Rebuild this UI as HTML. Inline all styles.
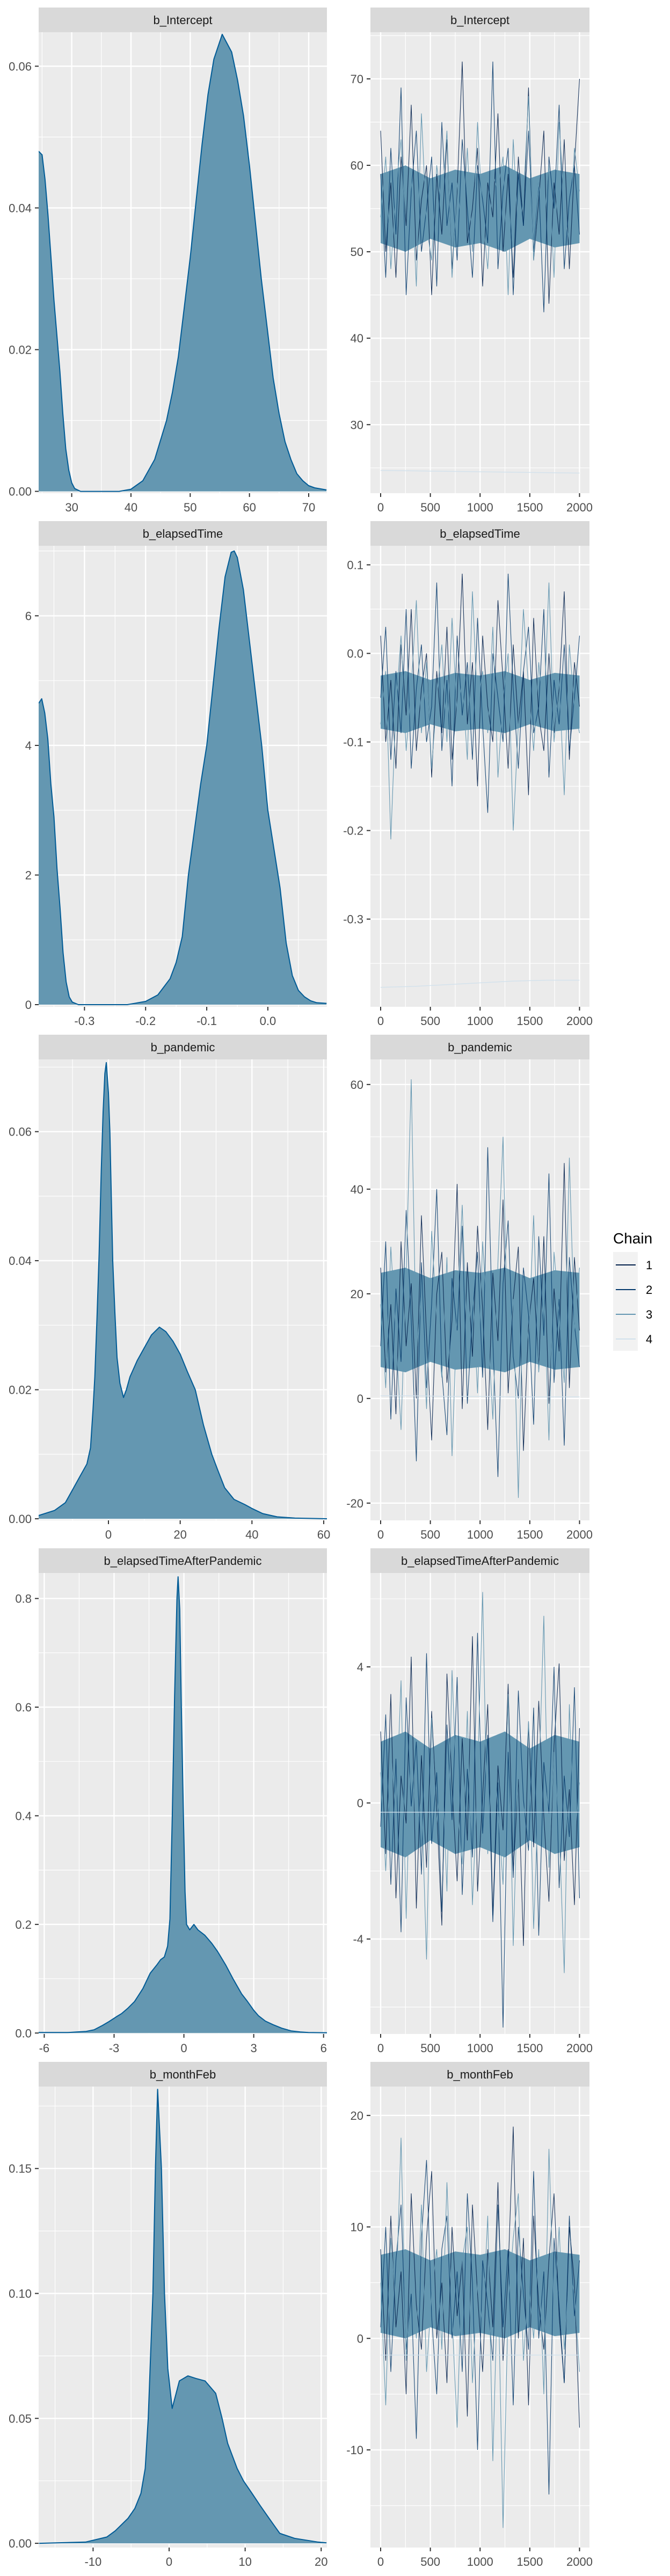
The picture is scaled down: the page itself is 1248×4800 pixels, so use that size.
<!DOCTYPE html>
<html><head><meta charset="utf-8">
<style>
html,body{margin:0;padding:0;background:#fff;}
svg{display:block;}
text{font-family:"Liberation Sans",Arial,sans-serif;}
</style></head>
<body>
<svg id="chart" width="1248" height="4800" viewBox="0 0 1248 4800" xmlns="http://www.w3.org/2000/svg">
<rect x="0" y="0" width="1248" height="4800" fill="#ffffff"/>
<g id="legend">
  <text x="1142" y="2317" font-size="28" fill="#000">Chain</text>
  <rect x="1142" y="2333" width="46" height="184" fill="#F2F2F2"/>
</g>
</svg>
<script>
// ---------- parameter names ----------
const paramNames = ["b_Intercept","b_elapsedTime","b_pandemic","b_elapsedTimeAfterPandemic","b_monthFeb"];
const chainLabels = ["1","2","3","4"];

// ---------- density data (x, density) ----------
const densX0 = [24.4,25,25.5,26,26.5,27,27.5,28,28.5,29,29.5,30,30.5,31.5,38,40,42,44,46,47,48,49,50,51,52,53,54,55.4,57,58,59,60,61,62,63,64,65,66,67,68,69,70,71,73];
const densY0 = [0.048,0.0475,0.044,0.039,0.033,0.027,0.022,0.017,0.011,0.006,0.003,0.0012,0.0004,0,0,0.0003,0.0015,0.0045,0.010,0.014,0.019,0.026,0.033,0.041,0.049,0.056,0.061,0.0645,0.062,0.058,0.053,0.046,0.038,0.030,0.023,0.016,0.011,0.007,0.0045,0.0025,0.0015,0.0008,0.0005,0.0002];
const densX1 = [-0.375,-0.37,-0.365,-0.36,-0.355,-0.35,-0.345,-0.34,-0.335,-0.33,-0.325,-0.32,-0.31,-0.23,-0.2,-0.18,-0.16,-0.15,-0.14,-0.13,-0.12,-0.11,-0.10,-0.09,-0.08,-0.07,-0.06,-0.055,-0.05,-0.04,-0.03,-0.02,-0.01,0.0,0.01,0.02,0.03,0.04,0.05,0.06,0.07,0.08,0.096];
const densY1 = [4.65,4.72,4.5,4.1,3.4,2.9,2.1,1.5,0.8,0.35,0.12,0.04,0,0,0.05,0.15,0.4,0.65,1.05,2.0,2.7,3.4,4.0,4.9,5.8,6.6,6.98,7.0,6.9,6.4,5.6,4.8,4.0,3.0,2.4,1.8,0.95,0.45,0.22,0.12,0.06,0.03,0.02];
const densX2 = [-19.5,-15,-12,-10,-8,-6,-5,-4.3,-3.8,-3.2,-2.6,-2,-1.5,-1,-0.6,0,0.4,0.8,1.2,1.8,2.4,3.2,4.2,5,6,8,10,12,14.2,16,18,20,22,24.2,26.5,28.8,30.5,32.4,35,38,40,43,47,52,61];
const densY2 = [0.0005,0.0013,0.0025,0.0045,0.0065,0.0085,0.011,0.017,0.022,0.031,0.041,0.054,0.063,0.069,0.0707,0.066,0.06,0.05,0.04,0.032,0.025,0.021,0.0188,0.020,0.022,0.0245,0.0265,0.0285,0.0297,0.029,0.0275,0.0255,0.0228,0.02,0.0145,0.01,0.0075,0.0048,0.003,0.0022,0.0016,0.0008,0.0003,0.0001,0];
const densX3 = [-6.24,-5,-4.6,-4.2,-3.86,-3.5,-3.22,-2.9,-2.67,-2.4,-2.12,-1.76,-1.45,-1.17,-1.0,-0.84,-0.7,-0.6,-0.5,-0.4,-0.3,-0.25,-0.18,-0.11,-0.02,0.05,0.115,0.25,0.43,0.6,0.9,1.2,1.45,1.8,2.11,2.48,2.7,3.0,3.2,3.5,3.85,4.2,4.6,5.0,5.35,6.15];
const densY3 = [0.001,0.001,0.002,0.003,0.006,0.014,0.021,0.03,0.036,0.046,0.058,0.082,0.11,0.125,0.135,0.14,0.16,0.21,0.4,0.62,0.8,0.84,0.78,0.6,0.4,0.26,0.2,0.19,0.2,0.19,0.18,0.165,0.15,0.125,0.1,0.072,0.06,0.042,0.032,0.022,0.015,0.009,0.004,0.002,0.001,0.0005];
const densX4 = [-17.1,-11,-8.2,-7.08,-5.4,-4.5,-3.71,-3.14,-2.75,-2.13,-1.8,-1.51,-1.01,-0.61,-0.17,0.4,1.35,2.47,3.5,4.73,6.13,6.97,7.7,8.94,9.78,10.9,12.0,13.15,14.55,16.5,19.6,20.7];
const densY4 = [0,0.0005,0.0025,0.005,0.01,0.014,0.02,0.03,0.05,0.1,0.15,0.1817,0.15,0.1,0.07,0.054,0.065,0.067,0.066,0.065,0.06,0.05,0.04,0.03,0.025,0.02,0.015,0.01,0.004,0.002,0.0005,0.0002];

// ---------- trace data (values sampled along iterations 0..2000) ----------
const traceC1_0 = [64,50,58,47,61,53,67,49,56,60,45,59,52,63,48,57,72,51,55,62,46,58,54,66,50,59,47,61,53,69,49,56,64,44,58,52,63,48,60,70];
const traceC2_0 = [59,47,62,52,69,45,57,64,50,55,61,46,65,53,58,49,63,55,47,60,56,51,72,48,57,62,45,59,53,64,50,58,43,61,55,67,48,56,60,52];
const traceC3_0 = [54,61,48,57,63,51,59,46,66,53,49,60,55,64,47,58,52,62,50,65,54,48,59,57,61,45,63,52,56,68,49,58,53,60,47,65,55,51,62,57];
const traceC4_0 = [24.7,24.65,24.6,24.55,24.5,24.45,24.4];
const bandLo_0 = [51,50,51.5,50.5,51,50,51.5,50.5,51];
const bandHi_0 = [59,60,58.5,59.5,59,60,58.5,59.5,59];

const traceC1_1 = [0.02,-0.10,-0.03,-0.13,0.01,-0.07,0.05,-0.11,-0.04,0.00,-0.14,-0.02,-0.09,0.03,-0.12,-0.05,0.09,-0.08,-0.01,-0.15,0.02,-0.06,-0.10,0.06,-0.03,-0.13,0.01,-0.08,-0.02,-0.16,0.04,-0.07,-0.11,0.00,-0.09,-0.04,0.07,-0.12,-0.01,-0.06];
const traceC2_1 = [-0.05,0.03,-0.12,-0.02,-0.09,0.05,-0.13,-0.04,0.01,-0.10,-0.06,0.08,-0.11,-0.03,-0.15,0.02,-0.07,-0.01,-0.12,0.04,-0.08,-0.18,0.00,-0.05,-0.10,0.09,-0.04,-0.13,-0.02,0.03,-0.09,-0.06,0.05,-0.14,-0.03,-0.08,0.01,-0.11,-0.05,0.02];
const traceC3_1 = [-0.08,-0.02,-0.21,-0.06,0.02,-0.11,-0.04,0.06,-0.09,-0.01,-0.13,-0.05,0.01,-0.10,0.04,-0.07,-0.03,-0.12,0.07,-0.06,-0.02,-0.09,0.03,-0.14,-0.05,0.00,-0.20,-0.08,0.05,-0.04,-0.11,-0.01,-0.07,0.08,-0.10,-0.03,-0.16,0.01,-0.06,-0.09];
const traceC4_1 = [-0.377,-0.376,-0.374,-0.372,-0.370,-0.369,-0.369];
const bandLo_1 = [-0.085,-0.09,-0.08,-0.088,-0.085,-0.09,-0.08,-0.088,-0.085];
const bandHi_1 = [-0.025,-0.02,-0.03,-0.022,-0.025,-0.02,-0.03,-0.022,-0.025];

const traceC1_2 = [25,5,18,-3,30,10,22,0,35,12,-8,20,28,3,15,41,-2,26,8,33,17,-6,24,11,38,1,19,29,-10,14,23,6,31,-1,21,9,45,2,27,13];
const traceC2_2 = [10,30,-4,21,7,36,15,-12,26,2,18,40,5,-7,23,13,33,-1,16,28,4,48,11,-15,22,34,8,0,25,16,-5,31,12,43,3,19,-9,27,14,6];
const traceC3_2 = [18,2,29,12,-6,24,61,8,20,-2,32,15,4,27,-11,17,37,9,22,1,30,14,-4,26,50,7,19,-19,23,11,35,5,21,-8,28,16,3,46,13,25];
const traceC4_2 = [0.5,0.5,0.4,0.4,0.3,0.3,0.3];
const bandLo_2 = [6,5,7,5.5,6,5,7,5.5,6];
const bandHi_2 = [24,25,23,24.5,24,25,23,24.5,24];

const traceC1_3 = [2.1,-1.5,3.2,-2.8,0.8,-0.6,4.3,-3.1,1.4,-1.9,2.7,-0.2,-3.6,3.8,0.5,-2.3,1.9,-1.1,4.9,-2.6,0.2,2.9,-3.3,1.1,-0.8,3.5,-2.0,0.7,-4.2,2.4,-1.3,3.0,-0.4,-2.9,1.7,4.1,-1.7,0.4,-3.0,2.2];
const traceC2_3 = [-0.7,2.6,-2.4,1.3,-3.8,3.1,-0.1,1.8,-2.1,4.4,-1.2,0.9,-3.2,2.3,-0.5,3.7,-2.7,1.0,-1.6,5.0,-0.9,2.0,-3.5,0.6,-6.6,1.5,-2.2,3.3,0.1,-1.4,2.8,-3.9,1.2,-0.3,4.0,-2.5,0.8,-1.0,3.4,-2.8];
const traceC3_3 = [0.9,-2.0,1.6,-0.4,3.6,-3.4,2.0,-1.1,0.3,-4.6,2.5,-0.6,1.3,-2.6,3.9,0.0,-1.8,2.7,-3.0,0.7,6.2,-1.5,1.9,-0.2,-2.4,3.2,-4.2,1.1,-0.9,2.4,-3.7,0.5,5.5,-1.9,1.5,-0.7,-5.0,2.9,-1.2,0.6];
const traceC4_3 = [-0.27,-0.27,-0.27,-0.27,-0.27,-0.27,-0.27];
const bandLo_3 = [-1.3,-1.6,-1.1,-1.5,-1.3,-1.6,-1.1,-1.5,-1.3];
const bandHi_3 = [1.8,2.1,1.6,2.0,1.8,2.1,1.6,2.0,1.8];

const traceC1_4 = [8,-2,11,1,6,-5,13,3,-1,9,15,0,5,-4,10,2,7,-7,12,4,-3,8,1,14,-2,6,19,0,9,-6,11,3,-1,7,13,2,-4,10,5,-8];
const traceC2_4 = [1,10,-3,7,12,-1,4,-9,9,16,2,-5,8,11,0,6,-3,13,5,-10,7,3,-2,12,1,8,-6,10,4,-1,15,0,6,-14,9,3,-4,11,2,7];
const traceC3_4 = [5,-6,9,3,18,-2,6,0,12,-3,4,8,-1,14,2,-8,7,10,-4,5,1,11,-11,6,-17,3,9,13,-2,5,0,8,-5,17,2,10,-1,6,4,-3];
const traceC4_4 = [-1.5,-1.5,-1.5,-1.5,-1.5,-1.5,-1.5];
const bandLo_4 = [0.5,0,1,0.2,0.5,0,1,0.2,0.5];
const bandHi_4 = [7.5,8,7,7.8,7.5,8,7,7.8,7.5];

// ---------- axis ticks ----------
const densXTicks = [[30,40,50,60,70],[-0.3,-0.2,-0.1,0.0],[0,20,40,60],[-6,-3,0,3,6],[-10,0,10,20]];
const densXLabels = [["30","40","50","60","70"],["-0.3","-0.2","-0.1","0.0"],["0","20","40","60"],["-6","-3","0","3","6"],["-10","0","10","20"]];
const densYTicks = [[0,0.02,0.04,0.06],[0,2,4,6],[0,0.02,0.04,0.06],[0,0.2,0.4,0.6,0.8],[0,0.05,0.10,0.15]];
const densYLabels = [["0.00","0.02","0.04","0.06"],["0","2","4","6"],["0.00","0.02","0.04","0.06"],["0.0","0.2","0.4","0.6","0.8"],["0.00","0.05","0.10","0.15"]];
const traceXTicks = [0,500,1000,1500,2000];
const traceXLabels = ["0","500","1000","1500","2000"];
const traceYTicks = [[30,40,50,60,70],[-0.3,-0.2,-0.1,0.0,0.1],[-20,0,20,40,60],[-4,0,4],[-10,0,10,20]];
const traceYLabels = [["30","40","50","60","70"],["-0.3","-0.2","-0.1","0.0","0.1"],["-20","0","20","40","60"],["-4","0","4"],["-10","0","10","20"]];

// ---------- axis domains ----------
const densXDomain = [[24.42,73.08],[-0.375,0.0967],[-19.45,60.9],[-6.24,6.145],[-17.16,20.76]];
const densYDomain = [[-0.00026,0.0648],[-0.033,7.08],[-0.00025,0.0712],[-0.0017,0.847],[-0.0017,0.1828]];
const traceXDomain = [-102.6,2100];
const traceYDomain = [[22.07,75.4],[-0.399,0.1215],[-23.3,64.8],[-6.79,6.76],[-18.76,22.59]];

const densX = [densX0,densX1,densX2,densX3,densX4];
const densY = [densY0,densY1,densY2,densY3,densY4];
const traces = [[traceC1_0,traceC2_0,traceC3_0,traceC4_0],[traceC1_1,traceC2_1,traceC3_1,traceC4_1],[traceC1_2,traceC2_2,traceC3_2,traceC4_2],[traceC1_3,traceC2_3,traceC3_3,traceC4_3],[traceC1_4,traceC2_4,traceC3_4,traceC4_4]];
const bandsLo = [bandLo_0,bandLo_1,bandLo_2,bandLo_3,bandLo_4];
const bandsHi = [bandHi_0,bandHi_1,bandHi_2,bandHi_3,bandHi_4];

const chainColors = ["#011f4b","#03396c","#6497b1","#d1e1ec"];
const rowTops = [14,971,1928,2885,3842];
const NS = "http://www.w3.org/2000/svg";
const svg = document.getElementById("chart");

function el(tag, attrs, parent){
  const e = document.createElementNS(NS, tag);
  for (const k in attrs) e.setAttribute(k, attrs[k]);
  (parent||svg).appendChild(e);
  return e;
}
function scale(d, r){ return v => r[0] + (v - d[0]) / (d[1] - d[0]) * (r[1] - r[0]); }
function minors(ticks, dom){
  const out = [];
  const step = ticks.length > 1 ? ticks[1]-ticks[0] : 1;
  const all = [ticks[0]-step].concat(ticks).concat([ticks[ticks.length-1]+step]);
  for (let i=0;i<all.length-1;i++){
    const m = (all[i]+all[i+1])/2;
    if (m > dom[0] && m < dom[1]) out.push(m);
  }
  return out;
}

function drawPanel(g, x0, x1, y0, y1, xs, ys, xT, xL, yT, yL, xDom, yDom, title){
  const strip = el("rect", {x:x0, y:y0-46, width:x1-x0, height:46, fill:"#D9D9D9"}, g);
  
  
  const st = el("text", {x:(x0+x1)/2, y:y0-15, "font-size":22, fill:"#1A1A1A", "text-anchor":"middle"}, g);
  st.textContent = title;
  
  
  const bg = el("rect", {x:x0, y:y0, width:x1-x0, height:y1-y0, fill:"#EBEBEB"}, g);
  
  
  minors(xT, xDom).forEach(v => {
    const l = el("line", {x1:xs(v), x2:xs(v), y1:y0, y2:y1, stroke:"#fff", "stroke-width":1.2}, g);
    
    
  });
  minors(yT, yDom).forEach(v => {
    const l = el("line", {x1:x0, x2:x1, y1:ys(v), y2:ys(v), stroke:"#fff", "stroke-width":1.2}, g);
    
    
  });
  xT.forEach((v,i) => {
    const l = el("line", {x1:xs(v), x2:xs(v), y1:y0, y2:y1, stroke:"#fff", "stroke-width":2.4}, g);
    
    
    const t = el("line", {x1:xs(v), x2:xs(v), y1:y1, y2:y1+7, stroke:"#333", "stroke-width":2}, g);
    
    
    const tx = el("text", {x:xs(v), y:y1+34, "font-size":22, fill:"#4D4D4D", "text-anchor":"middle"}, g);
    tx.textContent = xL[i];
    
    
  });
  yT.forEach((v,i) => {
    const l = el("line", {x1:x0, x2:x1, y1:ys(v), y2:ys(v), stroke:"#fff", "stroke-width":2.4}, g);
    
    
    const t = el("line", {x1:x0-7, x2:x0, y1:ys(v), y2:ys(v), stroke:"#333", "stroke-width":2}, g);
    
    
    const tx = el("text", {x:x0-13, y:ys(v)+8, "font-size":22, fill:"#4D4D4D", "text-anchor":"end"}, g);
    tx.textContent = yL[i];
    
    
  });
}

for (let r=0; r<5; r++){
  const top = rowTops[r] + 46, bot = rowTops[r] + 905;
  // ----- density panel -----
  const gd = el("g", {});
  
  
  const dxs = scale(densXDomain[r], [72,609]);
  const dys = scale(densYDomain[r], [bot, top]);
  drawPanel(gd, 72, 609, top, bot, dxs, dys, densXTicks[r], densXLabels[r], densYTicks[r], densYLabels[r], densXDomain[r], densYDomain[r], paramNames[r]);
  const clipId = "clipd"+r;
  const cp = el("clipPath", {id:clipId}, gd);
  el("rect", {x:72, y:top, width:537, height:bot-top}, cp);
  const X = densX[r], Y = densY[r];
  let d = "M" + dxs(X[0]) + "," + dys(0);
  let dl = "";
  for (let i=0;i<X.length;i++){
    d += " L" + dxs(X[i]).toFixed(1) + "," + dys(Y[i]).toFixed(1);
    dl += (i?" L":"M") + dxs(X[i]).toFixed(1) + "," + dys(Y[i]).toFixed(1);
  }
  d += " L" + dxs(X[X.length-1]) + "," + dys(0) + " Z";
  const area = el("path", {d:d, fill:"#6497b1", "clip-path":"url(#"+clipId+")"}, gd);
  
  
  const line = el("path", {d:dl, fill:"none", stroke:"#005b96", "stroke-width":2, "stroke-linejoin":"round", "clip-path":"url(#"+clipId+")"}, gd);
  
  

  // ----- trace panel -----
  const gt = el("g", {});
  
  
  const txs = scale(traceXDomain, [690,1098]);
  const tys = scale(traceYDomain[r], [bot, top]);
  drawPanel(gt, 690, 1098, top, bot, txs, tys, traceXTicks, traceXLabels, traceYTicks[r], traceYLabels[r], traceXDomain, traceYDomain[r], paramNames[r]);
  // central band
  const lo = bandsLo[r], hi = bandsHi[r];
  let bd = "";
  for (let i=0;i<lo.length;i++){ bd += (i?" L":"M") + txs(i*2000/(lo.length-1)).toFixed(1) + "," + tys(hi[i]).toFixed(1); }
  for (let i=lo.length-1;i>=0;i--){ bd += " L" + txs(i*2000/(lo.length-1)).toFixed(1) + "," + tys(lo[i]).toFixed(1); }
  bd += " Z";
  const band = el("path", {d:bd, fill:"#6497b1"}, gt);
  
  
  for (let c=0;c<4;c++){
    const vals = traces[r][c];
    let p = "";
    for (let i=0;i<vals.length;i++){
      p += (i?" L":"M") + txs(i*2000/(vals.length-1)).toFixed(1) + "," + tys(vals[i]).toFixed(1);
    }
    const pl = el("path", {d:p, fill:"none", stroke:chainColors[c], "stroke-width": c===3 ? 1.5 : 1.1, "stroke-opacity": c===2 ? 1 : 0.9}, gt);
    
    
  }
}

// ----- legend entries -----
const lg = document.getElementById("legend");
for (let c=0;c<4;c++){
  const cy = 2357 + c*46;
  const ln = el("line", {x1:1147, x2:1184, y1:cy, y2:cy, stroke:chainColors[c], "stroke-width":2}, lg);
  
  
  const t = el("text", {x:1203, y:cy+8, "font-size":22, fill:"#000"}, lg);
  t.textContent = chainLabels[c];
  
  
}
svg.appendChild(lg);
</script>
</body></html>
